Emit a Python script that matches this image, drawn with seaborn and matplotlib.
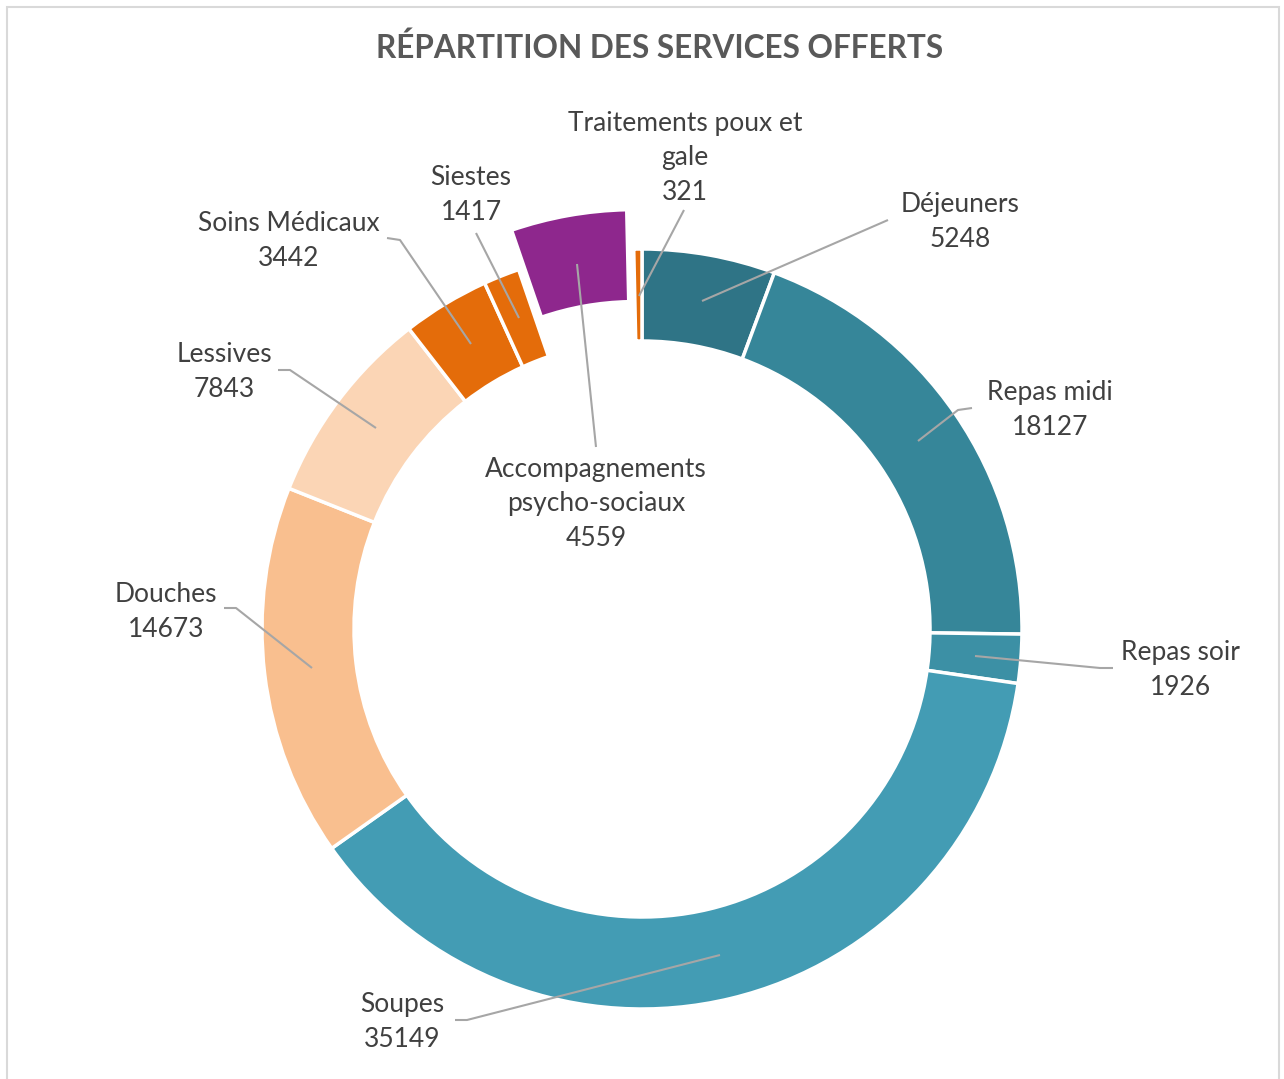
import matplotlib
matplotlib.use("Agg")
import matplotlib.pyplot as plt
import seaborn as sns

# data (clockwise from 12 o'clock)
categories = ["Déjeuners", "Repas midi", "Repas soir", "Soupes", "Douches",
              "Lessives", "Soins Médicaux", "Siestes",
              "Accompagnements psycho-sociaux", "Traitements poux et gale"]
values = [5248, 18127, 1926, 35149, 14673, 7843, 3442, 1417, 4559, 321]
colors = ["#2F7486", "#368699", "#3C90A5", "#439CB4", "#F9BF8F",
          "#FBD5B5", "#E46C0A", "#E46C0A", "#8E278D", "#E46C0A"]
# pie() offsets exploded slices in data units (pixels here)
explode = [0, 0, 0, 0, 0, 0, 0, 0, 40, 0]

# label texts, positions and leader lines in pixel coords
label_texts = ["Déjeuners\n5248", "Repas midi\n18127", "Repas soir\n1926",
               "Soupes\n35149", "Douches\n14673", "Lessives\n7843",
               "Soins Médicaux\n3442", "Siestes\n1417",
               "Accompagnements\npsycho-sociaux\n4559",
               "Traitements poux et\ngale\n321"]
label_pos = [(960, 222), (1050, 410), (1180, 670), (402, 1022), (166, 612),
             (224, 372), (289, 241), (471, 195), (596, 504), (685, 158)]
leaders = [
    [(888, 220), (702, 301)],
    [(972, 408), (958, 410), (918, 441)],
    [(1113, 668), (1100, 668), (975, 656)],
    [(455, 1020), (467, 1020), (720, 955)],
    [(224, 608), (236, 608), (312, 668)],
    [(278, 370), (290, 370), (376, 428)],
    [(387, 238), (400, 240), (471, 344)],
    [(476, 233), (519, 318)],
    [(596, 447), (577, 264)],
    [(684, 210), (639, 296)],
]

W, H = 1284, 1079
sns.set_theme(style="white")
plt.rcParams['font.family'] = ['Lato', 'DejaVu Sans']

fig = plt.figure(figsize=(W / 100, H / 100), dpi=100)
ax = fig.add_axes([0, 0, 1, 1])
ax.set_aspect('equal')
ax.axis('off')


def P(x, y):
    return x, H - y


# chart frame
ax.add_patch(plt.Rectangle(P(7, 1090), 1272, 1083, fill=False,
                           edgecolor="#D9D9D9", linewidth=1.5))

cx, cy = P(642, 629)
ax.pie(values, colors=colors, explode=explode, startangle=90, counterclock=False,
       radius=380, center=(cx, cy),
       wedgeprops=dict(width=92, edgecolor="white", linewidth=2.5))
ax.set_xlim(0, W)
ax.set_ylim(0, H)

for pts in leaders:
    xs = [p[0] for p in pts]
    ys = [H - p[1] for p in pts]
    ax.plot(xs, ys, color="#A6A6A6", linewidth=1.5, solid_capstyle='butt')

for txt, (x, y) in zip(label_texts, label_pos):
    ax.text(*P(x, y), txt, ha='center', va='center', fontsize=19,
            color="#404040", linespacing=1.5)

ax.text(*P(660, 48), "RÉPARTITION DES SERVICES OFFERTS", ha='center', va='center',
        fontsize=22.7, fontweight='bold', color="#595959")

fig.savefig("out.png", dpi=100)
